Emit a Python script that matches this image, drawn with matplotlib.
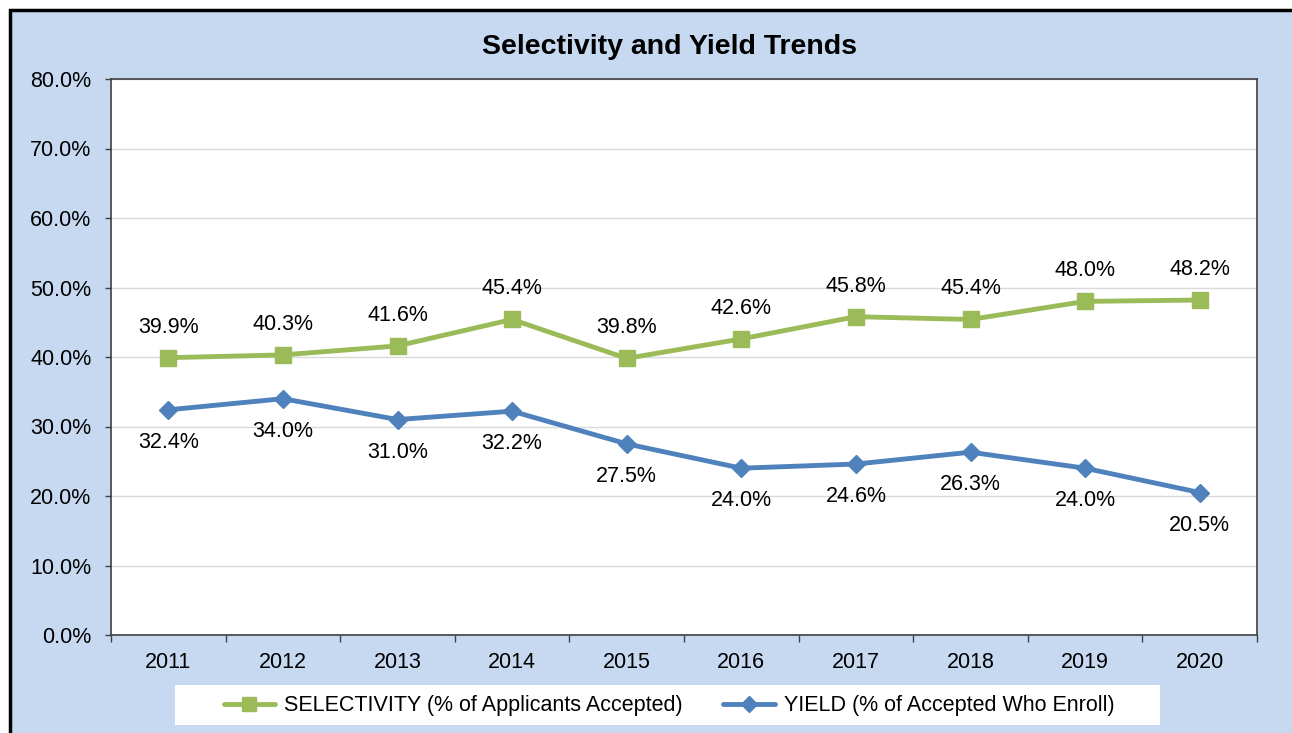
import numpy as np
from matplotlib import pyplot as plt
from matplotlib.patches import Rectangle
from matplotlib.ticker import FixedLocator, FuncFormatter

plt.rcParams['font.family'] = ['Liberation Sans', 'DejaVu Sans']

years = ['2011', '2012', '2013', '2014', '2015', '2016', '2017', '2018', '2019', '2020']
selectivity = [39.9, 40.3, 41.6, 45.4, 39.8, 42.6, 45.8, 45.4, 48.0, 48.2]
yield_pct = [32.4, 34.0, 31.0, 32.2, 27.5, 24.0, 24.6, 26.3, 24.0, 20.5]
y_ticks = [0, 10, 20, 30, 40, 50, 60, 70, 80]

green = '#9BBB59'
blue = '#4F81BD'
bg = '#C6D9F1'
fs = 15.5

W, H = 1292, 733
fig = plt.figure(figsize=(W / 100, H / 100), dpi=100)
fig.patch.set_facecolor('white')

# light blue chart area with black outline (runs off right/bottom edge)
fig.patches.append(Rectangle((10 / W, -0.05), 1.1, 1 - 10 / H + 0.05,
                             transform=fig.transFigure, facecolor=bg,
                             edgecolor='black', lw=2.5, zorder=-2))
# white legend box
fig.patches.append(Rectangle((175 / W, 1 - 725 / H), 985 / W, 40 / H,
                             transform=fig.transFigure, facecolor='white',
                             edgecolor='none', zorder=-1))

ax = fig.add_axes([111 / W, 1 - 635 / H, (1257 - 111) / W, (635 - 79) / H])
ax.set_zorder(2)
ax.set_facecolor('white')
x = np.arange(len(years))

ax.plot(x, selectivity, color=green, lw=3.5, marker='s', ms=11.5,
        solid_capstyle='round', label='SELECTIVITY (% of Applicants Accepted)', zorder=3)
ax.plot(x, yield_pct, color=blue, lw=3.5, marker='D', ms=9.5,
        solid_capstyle='round', label='YIELD (% of Accepted Who Enroll)', zorder=3)

for i in range(len(years)):
    ax.annotate(f'{selectivity[i]:.1f}%', (x[i], selectivity[i]), xytext=(0, 22),
                textcoords='offset points', ha='center', va='center', fontsize=fs)
    ax.annotate(f'{yield_pct[i]:.1f}%', (x[i], yield_pct[i]), xytext=(0, -23.5),
                textcoords='offset points', ha='center', va='center', fontsize=fs)

ax.set_xlim(-0.5, len(years) - 0.5)
ax.set_ylim(0, 80)
ax.set_yticks(y_ticks)
ax.yaxis.set_major_formatter(FuncFormatter(lambda v, p: f'{v:.1f}%'))
ax.tick_params(axis='y', direction='out', length=4, width=1, pad=10,
               labelsize=fs, color='#404040')

ax.xaxis.set_major_locator(FixedLocator(np.arange(-0.5, len(years), 1.0)))
ax.xaxis.set_major_formatter(FuncFormatter(lambda v, p: ''))
ax.xaxis.set_minor_locator(FixedLocator(x))
ax.set_xticklabels(years, minor=True)
ax.tick_params(axis='x', which='major', direction='out', length=5, width=1, color='#404040')
ax.tick_params(axis='x', which='minor', length=0, pad=12, labelsize=fs)

ax.grid(axis='y', color='#D9D9D9', lw=1)
ax.set_axisbelow(True)
for s in ax.spines.values():
    s.set_color('#404040')
    s.set_linewidth(1.2)

fig.text(669 / W, 1 - 47 / H, 'Selectivity and Yield Trends', ha='center', va='center',
         fontsize=20.5, fontweight='bold')

handles, labels = ax.get_legend_handles_labels()
leg = fig.legend(handles, labels, loc='center', ncol=2, frameon=False,
                 bbox_to_anchor=(669 / W, 1 - 706 / H), fontsize=fs,
                 handlelength=2.4, columnspacing=1.9, handletextpad=0.4,
                 markerscale=0.85)
leg.set_zorder(3)

fig.savefig('out.png', dpi=100)
